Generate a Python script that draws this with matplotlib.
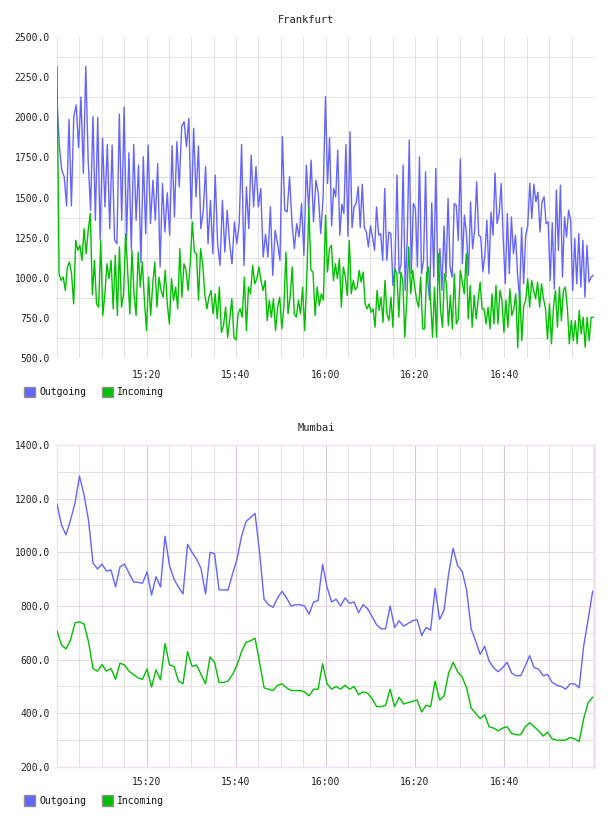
import numpy as np
import matplotlib
matplotlib.use('Agg')
import matplotlib.pyplot as plt
from matplotlib.patches import Rectangle

plt.rcParams['font.family'] = ['DejaVu Sans Mono', 'DejaVu Sans']

# ---------------- data ----------------
series_names = ['Outgoing', 'Incoming']
tick_minutes = [20, 40, 60, 80, 100]
tick_labels = ['15:20', '15:40', '16:00', '16:20', '16:40']

# Frankfurt, 15:00-16:00 and 16:00-17:00
fra_out_a = [2100, 1817, 1670, 1630, 1448, 1987, 1448, 2004, 2077, 1812, 2125, 1650, 2317, 1733, 1420,
             2004, 1358, 2000, 1237, 1869, 1442, 1831, 1306, 1827, 1237, 1212, 2019, 1358, 2063, 1237,
             1779, 1177, 1831, 1358, 1702, 1094, 1754, 1275, 1827, 1337, 1608, 1358, 1712, 1067, 1587,
             1285, 1529, 1265, 1823, 1379, 1848, 1566, 1942, 1973, 1817, 1994, 1369, 1931, 1504, 1821,
             1306, 1415, 1692, 1212, 1483, 1150, 1640, 1212, 1077, 1483, 1160, 1421, 1212, 1087, 1348,
             1212, 1337, 1831, 1077, 1567, 1306, 1763, 1442, 1692, 1442, 1556, 1129, 1271, 1129, 1442,
             1015, 1296, 1212, 1108, 1879, 1421, 1410, 1629, 1348, 1181, 1337, 1254, 1463, 1140, 1702,
             1421, 1733, 1348, 1608, 1525, 1275, 1504, 2129]
fra_out_b = [1587, 1873, 1323, 1556, 1504, 1796, 1265, 1458, 1400, 1831, 1258, 1910, 1312, 1442, 1463,
             1567, 1312, 1583, 1312, 1285, 1192, 1323, 1254, 1171, 1442, 1265, 1275, 1108, 1556, 1108,
             1285, 1275, 952, 1067, 1640, 1025, 1087, 1702, 921, 1233, 1858, 1025, 1463, 1431, 1067,
             1754, 1025, 1108, 1660, 983, 862, 1467, 1004, 1681, 983, 1181, 921, 1323, 1004, 1494,
             1067, 1004, 1463, 1452, 1233, 1740, 1087, 1390, 1275, 1015, 1473, 1181, 1296, 1598, 1265,
             1254, 1036, 1140, 1358, 1025, 1410, 1265, 1652, 1337, 1400, 1587, 1244, 963, 1400, 1025,
             1379, 1150, 1265, 1025, 869, 1312, 963, 1265, 1323, 1590, 1369, 1583, 1473, 1533, 1285,
             1473, 1504, 1337, 1348, 983, 1343, 931, 1546, 1171, 1577, 1004, 1379, 1254, 1421, 1358,
             921, 1244, 963, 1275, 942, 1233, 879, 1202, 973, 1004, 1015]
fra_in_a = [2317, 1025, 983, 1004, 921, 1067, 1098, 1025, 837, 1233, 1171, 1202, 1108, 1306, 1150,
            1296, 1400, 894, 1108, 837, 817, 1233, 765, 900, 1087, 994, 1108, 806, 1140, 765,
            1192, 817, 900, 1275, 1025, 775, 1171, 900, 765, 1160, 942, 1098, 860, 671, 1004,
            765, 962, 1098, 817, 1004, 921, 879, 1046, 837, 712, 994, 860, 942, 806, 1181,
            879, 1087, 1046, 921, 1087, 1348, 1160, 1150, 860, 1181, 1087, 900, 806, 879, 921,
            775, 900, 744, 942, 660, 702, 817, 629, 744, 869, 629, 612, 775, 806, 754,
            1004, 671, 942, 900, 1077, 962, 994, 1067, 983, 921, 983, 733, 860, 754, 869,
            671, 817, 879, 681, 817, 1160, 775, 879, 1067, 775, 754, 860, 775, 942, 671,
            994, 1442, 1046, 1036, 765, 942, 827, 900, 860, 1390]
fra_in_b = [1036, 1181, 1202, 983, 1087, 994, 1119, 817, 1067, 1004, 890, 1233, 900, 983, 925,
            942, 1046, 973, 1036, 837, 806, 837, 785, 806, 692, 921, 796, 879, 723, 983,
            775, 733, 879, 692, 1056, 1025, 754, 1036, 983, 629, 860, 1192, 900, 1046, 942,
            860, 817, 1004, 681, 681, 1025, 1067, 860, 629, 942, 629, 1150, 806, 692, 1025,
            962, 702, 890, 681, 1025, 712, 744, 1046, 973, 900, 1150, 744, 952, 692, 890,
            744, 860, 973, 806, 806, 712, 817, 681, 900, 712, 952, 712, 921, 860, 660,
            860, 692, 931, 765, 806, 900, 563, 921, 608, 827, 860, 994, 817, 983, 921,
            869, 973, 817, 962, 869, 806, 619, 837, 588, 817, 921, 692, 942, 733, 921,
            942, 817, 588, 733, 608, 733, 588, 796, 650, 754, 567, 754, 608, 754, 754]

# Mumbai, one value per minute 15:00-16:59
mum_out = [1180, 1102, 1065, 1120, 1184, 1284, 1214, 1120, 960, 938, 956, 930, 934, 871, 946, 956,
           923, 890, 888, 885, 927, 841, 909, 871,
           1060, 950, 900, 870, 845, 1030, 1000, 975, 940, 845, 1000, 995, 860, 860, 860, 920,
           975, 1060, 1115, 1130, 1145, 1000, 825, 805, 795, 830, 855, 830, 800, 805, 805, 800,
           770, 815, 820, 955, 870, 815, 825, 800, 830, 810, 815, 775, 805, 790, 760, 730,
           715, 715, 800, 720, 745, 725, 735, 745, 750, 690, 720, 710, 865, 750, 785, 920,
           1015, 950, 930, 860, 715, 670, 620, 650, 595, 570, 555, 570, 590, 550, 540, 540,
           575, 615, 570, 565, 540, 545, 515, 505, 500, 490, 510, 510, 495, 650, 750, 855]
mum_in = [707, 655, 640, 673, 737, 741, 733, 667, 567, 557, 582, 557, 567, 527, 587, 580,
          557, 545, 532, 527, 565, 498, 562, 525,
          660, 580, 575, 520, 510, 630, 575, 580, 545, 510, 610, 590, 515, 515, 520, 545,
          580, 630, 665, 670, 680, 590, 495, 490, 485, 505, 510, 495, 485, 485, 485, 480,
          465, 490, 490, 585, 510, 490, 500, 490, 505, 490, 500, 470, 480, 475, 455, 425,
          425, 430, 490, 425, 460, 435, 440, 445, 450, 405, 430, 425, 520, 450, 465, 550,
          590, 555, 535, 495, 420, 400, 380, 395, 350, 345, 335, 345, 350, 325, 320, 320,
          350, 365, 350, 335, 315, 330, 305, 300, 300, 300, 310, 305, 295, 380, 440, 460]

# ---------------- style ----------------
C_OUT = '#6464ff'
C_IN = '#00c000'
GREY = '#e2e2e2'
PINK_MAJ = '#ead6ea'
PINK_VMAJ = '#dcc2dc'
PINK_BORDER = '#f0e2f0'
FS = 7
GLW = 0.75

W, H = 608, 816
fig = plt.figure(figsize=(W / 100, H / 100), dpi=100)


def fx(px):
    return px / W


def fy(py):
    return 1 - py / H


def half_times(n_a, n_b, end=119.8):
    ta = np.linspace(0, 60, n_a)
    tb = np.linspace(60, end, n_b + 1)[1:]
    return ta, tb


ax1 = fig.add_axes([fx(57), fy(358), fx(594) - fx(57), fy(37) - fy(358)])
ax2 = fig.add_axes([fx(57), fy(767), fx(594) - fx(57), fy(445) - fy(767)])

# Frankfurt
ta, tb = half_times(len(fra_out_a), len(fra_out_b))
ax1.plot(np.concatenate([ta, tb]), fra_out_a + fra_out_b, color=C_OUT, lw=1.0, zorder=3)
ta, tb = half_times(len(fra_in_a), len(fra_in_b))
ax1.plot(np.concatenate([ta, tb]), fra_in_a + fra_in_b, color=C_IN, lw=1.0, zorder=3)

ax1.set_xlim(0, 120)
ax1.set_ylim(500, 2500)
ax1.set_yticks(np.arange(500, 2501, 250))
ax1.set_yticklabels([f'{v:.1f}' for v in np.arange(500, 2501, 250)])
ax1.set_yticks(np.arange(625, 2500, 250), minor=True)
ax1.set_xticks(tick_minutes)
ax1.set_xticklabels(tick_labels)
ax1.set_xticks(np.arange(0, 120, 5), minor=True)
ax1.grid(False)
ax1.grid(True, axis='y', which='minor', color=GREY, lw=GLW, zorder=0)
ax1.grid(True, axis='x', which='both', color=GREY, lw=GLW, zorder=0)
for s in ax1.spines.values():
    s.set_visible(False)
ax1.tick_params(axis='both', which='both', length=0, labelsize=FS, colors='#222222')
ax1.tick_params(axis='y', pad=5)
ax1.tick_params(axis='x', pad=8.3)
ax1.set_axisbelow(True)

# Mumbai
tm = np.linspace(0, 119.7, len(mum_out))
ax2.plot(tm, mum_out, color=C_OUT, lw=1.0, zorder=3)
tm = np.linspace(0, 119.7, len(mum_in))
ax2.plot(tm, mum_in, color=C_IN, lw=1.0, zorder=3)
ax2.set_xlim(0, 120)
ax2.set_ylim(200, 1400)
ax2.set_yticks(np.arange(200, 1401, 200))
ax2.set_yticklabels([f'{v:.1f}' for v in np.arange(200, 1401, 200)])
ax2.set_yticks(np.arange(300, 1400, 200), minor=True)
ax2.set_xticks(tick_minutes)
ax2.set_xticklabels(tick_labels)
ax2.set_xticks(np.arange(0, 120, 5), minor=True)
ax2.grid(True, axis='y', which='major', color=PINK_MAJ, lw=GLW, zorder=0)
ax2.grid(True, axis='x', which='major', color=PINK_VMAJ, lw=GLW, zorder=0)
ax2.grid(True, axis='both', which='minor', color=GREY, lw=GLW, zorder=0)
for name, s in ax2.spines.items():
    s.set_color(PINK_BORDER)
    s.set_linewidth(1.0)
ax2.spines['right'].set_linewidth(2.0)
ax2.tick_params(axis='both', which='both', length=0, labelsize=FS, colors='#222222')
ax2.tick_params(axis='y', pad=5)
ax2.tick_params(axis='x', pad=7.5)
ax2.set_axisbelow(True)

# titles
fig.text(fx(306), fy(20), 'Frankfurt', ha='center', va='center', fontsize=7.5, color='#222222')
fig.text(fx(316), fy(428), 'Mumbai', ha='center', va='center', fontsize=7.5, color='#222222')


# legends
def legend(ycen):
    items = [(series_names[0], C_OUT, 24), (series_names[1], C_IN, 102)]
    for label, col, x0 in items:
        fig.add_artist(Rectangle((fx(x0), fy(ycen + 5.5)), 11 / W, 11 / H, transform=fig.transFigure,
                                 facecolor=col, edgecolor='#909090', lw=1.0))
        fig.text(fx(x0 + 15), fy(ycen), label, ha='left', va='center', fontsize=FS, color='#111111')


legend(392)
legend(800.5)

fig.savefig('out.png', dpi=100)
